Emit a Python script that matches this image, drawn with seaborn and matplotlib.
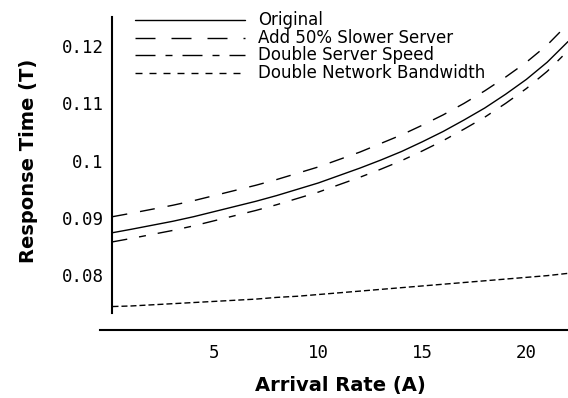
import matplotlib
matplotlib.use("Agg")
import matplotlib.pyplot as plt
from matplotlib.lines import Line2D
from matplotlib.transforms import Affine2D
import pandas as pd
import seaborn as sns

# Arrival rate (A) and response time (T) for each scenario
arrival = [0.1, 1, 2, 3, 4, 5, 6, 7, 8, 9, 10, 11, 12, 13, 14, 15, 16, 17, 18, 19, 20, 21, 22]
original = [0.0874, 0.0880, 0.0887, 0.0894, 0.0902, 0.0911, 0.0920, 0.0929, 0.0939, 0.0950,
            0.0961, 0.0974, 0.0987, 0.1001, 0.1016, 0.1033, 0.1051, 0.1071, 0.1092, 0.1116,
            0.1142, 0.1172, 0.1208]
slower_server = [0.0902, 0.0908, 0.0915, 0.0922, 0.0930, 0.0939, 0.0948, 0.0957, 0.0967, 0.0978,
                 0.0989, 0.1002, 0.1015, 0.1030, 0.1045, 0.1062, 0.1080, 0.1100, 0.1122, 0.1146,
                 0.1172, 0.1202, 0.1239]
double_speed = [0.0858, 0.0864, 0.0871, 0.0878, 0.0886, 0.0895, 0.0904, 0.0913, 0.0923, 0.0934,
                0.0945, 0.0958, 0.0971, 0.0985, 0.1000, 0.1017, 0.1035, 0.1055, 0.1076, 0.1100,
                0.1126, 0.1156, 0.1192]
double_bandwidth = [0.0745, 0.0746, 0.0748, 0.0750, 0.0752, 0.0754, 0.0756, 0.0758, 0.0761, 0.0763,
                    0.0766, 0.0769, 0.0772, 0.0775, 0.0778, 0.0781, 0.0784, 0.0787, 0.0790, 0.0793,
                    0.0796, 0.0799, 0.0803]

scenarios = ["Original", "Add 50% Slower Server", "Double Server Speed", "Double Network Bandwidth"]
x_ticks = [5, 10, 15, 20]
y_ticks = [0.08, 0.09, 0.1, 0.11, 0.12]
y_tick_labels = ["0.08", "0.09", "0.1", "0.11", "0.12"]

df = pd.DataFrame({
    "arrival": arrival,
    scenarios[0]: original,
    scenarios[1]: slower_server,
    scenarios[2]: double_speed,
    scenarios[3]: double_bandwidth,
}).melt(id_vars="arrival", var_name="scenario", value_name="response")

sns.set_style("white")
plt.rcParams["font.family"] = ["DejaVu Sans"]
plt.rcParams.update({
    "text.color": "black",
    "axes.labelcolor": "black",
    "xtick.color": "black",
    "ytick.color": "black",
})

W, H = 568, 398
fig = plt.figure(figsize=(W / 100, H / 100), dpi=100)
ax = fig.add_axes([100 / W, 1 - 330 / H, 468 / W, 313 / H])

LW = 1.0
PX = 72 / 100  # points per pixel


def dash_px(*lengths, lw=LW):
    return tuple(v * PX / lw for v in lengths)


line_dashes = {
    scenarios[0]: "",
    scenarios[1]: dash_px(15, 13),
    scenarios[2]: dash_px(15, 12, 7, 12),
    scenarios[3]: dash_px(6, 3),
}

sns.lineplot(data=df, x="arrival", y="response", style="scenario",
             style_order=scenarios, dashes=line_dashes, color="black",
             linewidth=LW, errorbar=None, legend=False, ax=ax)

ax.set_xlim(-0.5, 22.0)
ax.set_ylim(0.0704, 0.1251)

for side in ("top", "right"):
    ax.spines[side].set_visible(False)
ax.spines["left"].set_position(("data", 0.1))
ax.spines["left"].set_bounds(0.0734, 0.1251)
for side in ("left", "bottom"):
    ax.spines[side].set_linewidth(1.5)
    ax.spines[side].set_color("black")

ax.set_xticks(x_ticks)
ax.set_xticklabels([str(t) for t in x_ticks])
ax.set_yticks(y_ticks)
ax.set_yticklabels(y_tick_labels)
for lab in ax.get_xticklabels() + ax.get_yticklabels():
    lab.set_fontfamily("DejaVu Sans Mono")
    lab.set_fontsize(12.5)
    lab.set_color("black")
ax.tick_params(axis="y", direction="out", length=2.5, width=1.2, pad=4, colors="black")
ax.tick_params(axis="x", direction="in", length=2.5, width=1.2, pad=10, colors="black")

ax.set_xlabel("Arrival Rate (A)", fontsize=14, fontweight="bold", color="black")
ax.set_ylabel("Response Time (T)", fontsize=14, fontweight="bold", color="black")
ax.xaxis.set_label_coords((340 - 100) / 468, (330 - 386) / 313)
ax.xaxis.label.set_va("center")
ax.yaxis.set_label_coords((29 - 100) / 468, (330 - 161) / 313)
ax.yaxis.label.set_va("center")
ax.yaxis.label.set_ha("center")

# Legend drawn as sample strokes with their names beside them
px = Affine2D().scale(1 / W, -1 / H).translate(0, 1) + fig.transFigure
legend_dashes = [None, dash_px(20, 16), dash_px(20, 10, 7, 10), dash_px(7, 7)]
rows = [20, 38, 55, 73]
for name, dash, y in zip(scenarios, legend_dashes, rows):
    handle = Line2D([135, 245], [y, y], transform=px, color="black", linewidth=LW)
    if dash:
        handle.set_dashes(dash)
    fig.add_artist(handle)
    fig.text(258, y, name, transform=px, va="center", ha="left", fontsize=12, color="black")

fig.savefig("out.png", dpi=100)
